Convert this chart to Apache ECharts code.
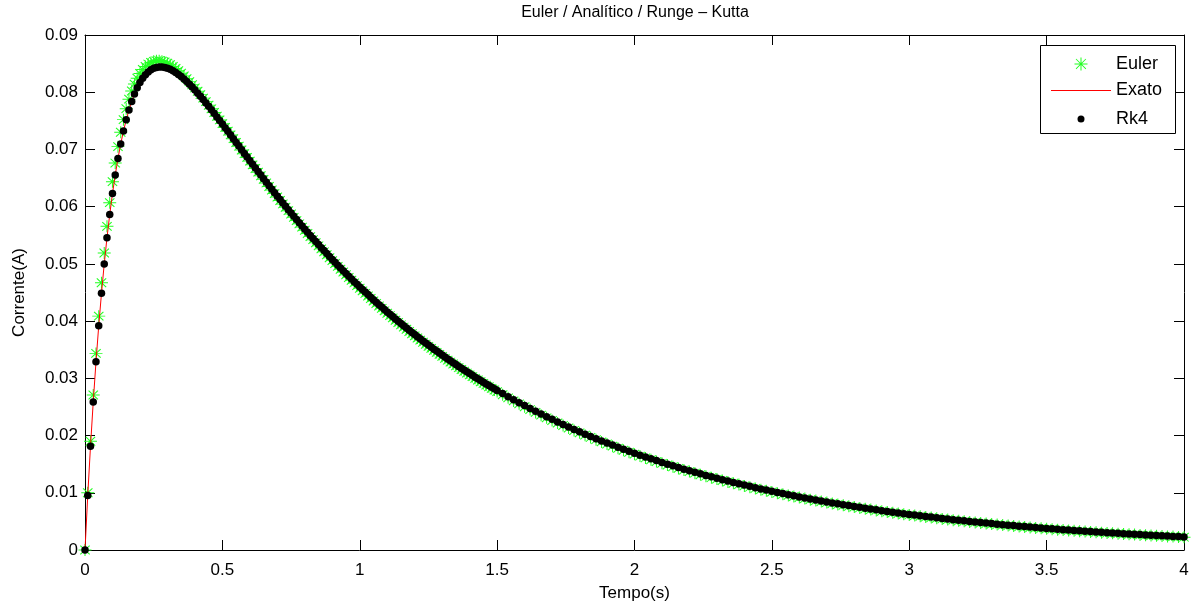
<!DOCTYPE html>
<html>
<head>
<meta charset="utf-8">
<title>Euler / Analítico / Runge – Kutta</title>
<script src="https://cdn.jsdelivr.net/npm/echarts@6/dist/echarts.min.js"></script>
<style>
  html, body { margin: 0; padding: 0; background: #fff; }
  #main { width: 1194px; height: 604px; }
</style>
</head>
<body>
<div id="main"></div>
<script>
// tempo (s): passo 0.01 ate 1.5, depois 0.02
var tempo = [
  0, 0.01, 0.02, 0.03, 0.04, 0.05, 0.06, 0.07, 0.08, 0.09,
  0.10, 0.11, 0.12, 0.13, 0.14, 0.15, 0.16, 0.17, 0.18, 0.19,
  0.20, 0.21, 0.22, 0.23, 0.24, 0.25, 0.26, 0.27, 0.28, 0.29,
  0.30, 0.31, 0.32, 0.33, 0.34, 0.35, 0.36, 0.37, 0.38, 0.39,
  0.40, 0.41, 0.42, 0.43, 0.44, 0.45, 0.46, 0.47, 0.48, 0.49,
  0.50, 0.51, 0.52, 0.53, 0.54, 0.55, 0.56, 0.57, 0.58, 0.59,
  0.60, 0.61, 0.62, 0.63, 0.64, 0.65, 0.66, 0.67, 0.68, 0.69,
  0.70, 0.71, 0.72, 0.73, 0.74, 0.75, 0.76, 0.77, 0.78, 0.79,
  0.80, 0.81, 0.82, 0.83, 0.84, 0.85, 0.86, 0.87, 0.88, 0.89,
  0.90, 0.91, 0.92, 0.93, 0.94, 0.95, 0.96, 0.97, 0.98, 0.99,
  1.00, 1.01, 1.02, 1.03, 1.04, 1.05, 1.06, 1.07, 1.08, 1.09,
  1.10, 1.11, 1.12, 1.13, 1.14, 1.15, 1.16, 1.17, 1.18, 1.19,
  1.20, 1.21, 1.22, 1.23, 1.24, 1.25, 1.26, 1.27, 1.28, 1.29,
  1.30, 1.31, 1.32, 1.33, 1.34, 1.35, 1.36, 1.37, 1.38, 1.39,
  1.40, 1.41, 1.42, 1.43, 1.44, 1.45, 1.46, 1.47, 1.48, 1.49,
  1.50,
  1.52, 1.54, 1.56, 1.58, 1.60,
  1.62, 1.64, 1.66, 1.68, 1.70, 1.72, 1.74, 1.76, 1.78, 1.80,
  1.82, 1.84, 1.86, 1.88, 1.90, 1.92, 1.94, 1.96, 1.98, 2.00,
  2.02, 2.04, 2.06, 2.08, 2.10, 2.12, 2.14, 2.16, 2.18, 2.20,
  2.22, 2.24, 2.26, 2.28, 2.30, 2.32, 2.34, 2.36, 2.38, 2.40,
  2.42, 2.44, 2.46, 2.48, 2.50, 2.52, 2.54, 2.56, 2.58, 2.60,
  2.62, 2.64, 2.66, 2.68, 2.70, 2.72, 2.74, 2.76, 2.78, 2.80,
  2.82, 2.84, 2.86, 2.88, 2.90, 2.92, 2.94, 2.96, 2.98, 3.00,
  3.02, 3.04, 3.06, 3.08, 3.10, 3.12, 3.14, 3.16, 3.18, 3.20,
  3.22, 3.24, 3.26, 3.28, 3.30, 3.32, 3.34, 3.36, 3.38, 3.40,
  3.42, 3.44, 3.46, 3.48, 3.50, 3.52, 3.54, 3.56, 3.58, 3.60,
  3.62, 3.64, 3.66, 3.68, 3.70, 3.72, 3.74, 3.76, 3.78, 3.80,
  3.82, 3.84, 3.86, 3.88, 3.90, 3.92, 3.94, 3.96, 3.98, 4.00
];

// corrente (A) - metodo de Euler
var euler = [
  0, 0.01000, 0.01900, 0.02709, 0.03436, 0.04087, 0.04670, 0.05191, 0.05656, 0.06070,
  0.06437, 0.06762, 0.07049, 0.07301, 0.07521, 0.07713, 0.07879, 0.08021, 0.08142, 0.08244,
  0.08328, 0.08397, 0.08451, 0.08492, 0.08521, 0.08540, 0.08549, 0.08550, 0.08543, 0.08529,
  0.08508, 0.08482, 0.08451, 0.08415, 0.08376, 0.08333, 0.08286, 0.08237, 0.08185, 0.08131,
  0.08075, 0.08017, 0.07958, 0.07897, 0.07836, 0.07773, 0.07710, 0.07646, 0.07581, 0.07516,
  0.07451, 0.07385, 0.07319, 0.07254, 0.07188, 0.07122, 0.07057, 0.06991, 0.06926, 0.06861,
  0.06796, 0.06731, 0.06667, 0.06603, 0.06540, 0.06477, 0.06415, 0.06352, 0.06291, 0.06229,
  0.06169, 0.06108, 0.06048, 0.05989, 0.05930, 0.05872, 0.05814, 0.05757, 0.05700, 0.05643,
  0.05587, 0.05532, 0.05477, 0.05423, 0.05369, 0.05316, 0.05263, 0.05211, 0.05159, 0.05107,
  0.05057, 0.05006, 0.04956, 0.04907, 0.04858, 0.04810, 0.04762, 0.04714, 0.04667, 0.04621,
  0.04574, 0.04529, 0.04484, 0.04439, 0.04395, 0.04351, 0.04308, 0.04265, 0.04222, 0.04180,
  0.04138, 0.04097, 0.04056, 0.04015, 0.03975, 0.03935, 0.03896, 0.03857, 0.03818, 0.03780,
  0.03742, 0.03705, 0.03668, 0.03631, 0.03595, 0.03559, 0.03523, 0.03488, 0.03453, 0.03419,
  0.03384, 0.03350, 0.03317, 0.03284, 0.03251, 0.03218, 0.03186, 0.03154, 0.03123, 0.03092,
  0.03061, 0.03030, 0.03000, 0.02970, 0.02940, 0.02911, 0.02882, 0.02853, 0.02824, 0.02796,
  0.02768,
  0.02713, 0.02659, 0.02606, 0.02554, 0.02503,
  0.02454, 0.02405, 0.02357, 0.02310, 0.02264, 0.02219, 0.02175, 0.02132, 0.02089, 0.02048,
  0.02007, 0.01967, 0.01928, 0.01889, 0.01852, 0.01815, 0.01779, 0.01743, 0.01709, 0.01675,
  0.01641, 0.01609, 0.01577, 0.01545, 0.01515, 0.01485, 0.01455, 0.01426, 0.01398, 0.01370,
  0.01343, 0.01316, 0.01290, 0.01264, 0.01239, 0.01214, 0.01190, 0.01166, 0.01143, 0.01120,
  0.01098, 0.01076, 0.01055, 0.01034, 0.01013, 0.00993, 0.00973, 0.00954, 0.00935, 0.00916,
  0.00898, 0.00880, 0.00863, 0.00846, 0.00829, 0.00812, 0.00796, 0.00780, 0.00765, 0.00750,
  0.00735, 0.00720, 0.00706, 0.00692, 0.00678, 0.00664, 0.00651, 0.00638, 0.00625, 0.00613,
  0.00601, 0.00589, 0.00577, 0.00566, 0.00554, 0.00543, 0.00533, 0.00522, 0.00512, 0.00501,
  0.00491, 0.00482, 0.00472, 0.00463, 0.00453, 0.00444, 0.00436, 0.00427, 0.00418, 0.00410,
  0.00402, 0.00394, 0.00386, 0.00378, 0.00371, 0.00364, 0.00356, 0.00349, 0.00342, 0.00335,
  0.00329, 0.00322, 0.00316, 0.00310, 0.00303, 0.00297, 0.00291, 0.00286, 0.00280, 0.00274,
  0.00269, 0.00264, 0.00258, 0.00253, 0.00248, 0.00243, 0.00238, 0.00234, 0.00229, 0.00224
];

// corrente (A) - Runge-Kutta 4a ordem
var rk4 = [
  0, 0.00952, 0.01812, 0.02588, 0.03289, 0.03920, 0.04488, 0.04998, 0.05455, 0.05863,
  0.06228, 0.06553, 0.06842, 0.07097, 0.07321, 0.07518, 0.07690, 0.07839, 0.07967, 0.08076,
  0.08168, 0.08244, 0.08306, 0.08354, 0.08391, 0.08418, 0.08434, 0.08442, 0.08442, 0.08434,
  0.08420, 0.08400, 0.08375, 0.08345, 0.08311, 0.08273, 0.08231, 0.08187, 0.08139, 0.08090,
  0.08038, 0.07984, 0.07928, 0.07871, 0.07812, 0.07753, 0.07692, 0.07631, 0.07569, 0.07506,
  0.07443, 0.07379, 0.07316, 0.07252, 0.07188, 0.07123, 0.07059, 0.06995, 0.06931, 0.06867,
  0.06804, 0.06740, 0.06677, 0.06614, 0.06552, 0.06490, 0.06428, 0.06366, 0.06305, 0.06245,
  0.06184, 0.06125, 0.06065, 0.06006, 0.05948, 0.05890, 0.05833, 0.05775, 0.05719, 0.05663,
  0.05607, 0.05552, 0.05498, 0.05443, 0.05390, 0.05337, 0.05284, 0.05232, 0.05180, 0.05129,
  0.05078, 0.05028, 0.04978, 0.04929, 0.04880, 0.04832, 0.04784, 0.04737, 0.04690, 0.04643,
  0.04597, 0.04553, 0.04507, 0.04463, 0.04418, 0.04374, 0.04331, 0.04288, 0.04245, 0.04203,
  0.04161, 0.04119, 0.04079, 0.04038, 0.03998, 0.03958, 0.03919, 0.03880, 0.03841, 0.03803,
  0.03765, 0.03727, 0.03690, 0.03654, 0.03617, 0.03581, 0.03546, 0.03510, 0.03476, 0.03441,
  0.03407, 0.03373, 0.03339, 0.03306, 0.03273, 0.03241, 0.03208, 0.03176, 0.03145, 0.03113,
  0.03083, 0.03052, 0.03021, 0.02991, 0.02962, 0.02932, 0.02903, 0.02874, 0.02846, 0.02817,
  0.02789,
  0.02734, 0.02680, 0.02627, 0.02575, 0.02524,
  0.02474, 0.02425, 0.02377, 0.02330, 0.02284, 0.02238, 0.02194, 0.02151, 0.02108, 0.02066,
  0.02025, 0.01985, 0.01946, 0.01907, 0.01870, 0.01833, 0.01796, 0.01761, 0.01726, 0.01692,
  0.01658, 0.01625, 0.01593, 0.01562, 0.01531, 0.01500, 0.01471, 0.01442, 0.01413, 0.01385,
  0.01358, 0.01331, 0.01304, 0.01279, 0.01253, 0.01228, 0.01204, 0.01180, 0.01157, 0.01134,
  0.01112, 0.01090, 0.01068, 0.01047, 0.01026, 0.01006, 0.00986, 0.00966, 0.00947, 0.00928,
  0.00910, 0.00892, 0.00874, 0.00857, 0.00840, 0.00823, 0.00807, 0.00791, 0.00776, 0.00760,
  0.00745, 0.00730, 0.00716, 0.00702, 0.00688, 0.00674, 0.00661, 0.00648, 0.00635, 0.00622,
  0.00610, 0.00598, 0.00586, 0.00575, 0.00563, 0.00552, 0.00541, 0.00530, 0.00520, 0.00510,
  0.00499, 0.00490, 0.00480, 0.00470, 0.00461, 0.00452, 0.00443, 0.00434, 0.00426, 0.00417,
  0.00409, 0.00401, 0.00393, 0.00385, 0.00377, 0.00370, 0.00363, 0.00356, 0.00348, 0.00342,
  0.00335, 0.00328, 0.00322, 0.00315, 0.00309, 0.00303, 0.00297, 0.00291, 0.00285, 0.00280,
  0.00274, 0.00269, 0.00263, 0.00258, 0.00253, 0.00248, 0.00243, 0.00238, 0.00234, 0.00229
];

// solucao analitica: coincide com o Rk4 nesta escala
var exato = rk4.slice();

var nomes = ['Euler', 'Exato', 'Rk4'];

var FONT = '"Liberation Sans", Arial, sans-serif';
var VERDE = '#22ff22';

// asterisco do matlab (+ e x juntos)
var asterisco = 'path://M0,46 L100,46 L100,54 L0,54 Z M46,0 L54,0 L54,100 L46,100 Z ' +
  'M17,11 L89,83 L83,89 L11,17 Z M83,11 L89,17 L17,89 L11,83 Z';

// icones da legenda numa caixa de 60 px, com o simbolo no meio
var iconeEuler = 'path://M0,6.5 L0,6.5 M60,6.5 L60,6.5 ' +
  'M23.5,6 L36.5,6 L36.5,7 L23.5,7 Z M29.5,0 L30.5,0 L30.5,13 L29.5,13 Z ' +
  'M25.3,1.2 L35.2,11.1 L34.6,11.7 L24.7,1.8 Z M34.6,1.2 L35.2,1.8 L25.3,11.7 L24.7,11.1 Z';
var iconeRk4 = 'path://M0,3.5 L0,3.5 M60,3.5 L60,3.5 ' +
  'M33.5,3.5 A3.5,3.5 0 1,1 26.5,3.5 A3.5,3.5 0 1,1 33.5,3.5 Z';

function pares(ys) {
  return tempo.map(function (t, i) { return [t, ys[i]]; });
}

var chart = echarts.init(document.getElementById('main'));

var eixoX = {
  type: 'value', min: 0, max: 4, interval: 0.5,
  axisLine: { onZero: false, lineStyle: { color: '#000', width: 1 } },
  axisTick: { inside: true, length: 10, lineStyle: { color: '#000' } },
  splitLine: { show: false }
};
var eixoY = {
  type: 'value', min: 0, max: 0.09, interval: 0.01,
  axisLine: { onZero: false, lineStyle: { color: '#000', width: 1 } },
  axisTick: { inside: true, length: 10, lineStyle: { color: '#000' } },
  splitLine: { show: false }
};

var textoLegenda = { fontFamily: FONT, fontSize: 18, color: '#000', lineHeight: 20 };

var option = {
  animation: false,
  backgroundColor: '#fff',
  textStyle: { fontFamily: FONT },
  title: {
    text: 'Euler / Analítico / Runge – Kutta',
    left: 630, top: 0, textAlign: 'center',
    textStyle: { fontFamily: FONT, fontSize: 16, fontWeight: 'normal', color: '#000' }
  },
  grid: { left: 85, right: 10, top: 35, bottom: 54, containLabel: false, outerBoundsMode: 'none' },
  xAxis: [
    echarts.util.merge({
      position: 'bottom',
      name: 'Tempo(s)', nameLocation: 'middle', nameGap: 35,
      nameTextStyle: { fontFamily: FONT, fontSize: 17, color: '#000' },
      axisLabel: { fontFamily: FONT, fontSize: 17, color: '#000', margin: 12 }
    }, eixoX, true),
    echarts.util.merge({ position: 'top', axisLabel: { show: false } }, eixoX, true)
  ],
  yAxis: [
    echarts.util.merge({
      position: 'left',
      name: 'Corrente(A)', nameLocation: 'middle', nameGap: 57,
      nameTextStyle: { fontFamily: FONT, fontSize: 17, color: '#000' },
      axisLabel: { fontFamily: FONT, fontSize: 17, color: '#000', margin: 7 }
    }, eixoY, true),
    echarts.util.merge({ position: 'right', axisLabel: { show: false } }, eixoY, true)
  ],
  legend: [
    { data: [{ name: nomes[0], icon: iconeEuler }], left: 1046, top: 49,
      itemWidth: 60, itemHeight: 13, textStyle: textoLegenda },
    { data: [{ name: nomes[1], icon: 'rect' }], left: 1046, top: 75.5,
      itemWidth: 60, itemHeight: 1, textStyle: textoLegenda },
    { data: [{ name: nomes[2], icon: iconeRk4 }], left: 1046, top: 104,
      itemWidth: 60, itemHeight: 7, textStyle: textoLegenda }
  ],
  graphic: [{
    type: 'rect', z: 3,
    shape: { x: 1040.5, y: 45.5, width: 135, height: 88 },
    style: { fill: '#fff', stroke: '#000', lineWidth: 1 }
  }],
  series: [
    {
      name: nomes[0], type: 'scatter', data: pares(euler),
      symbol: asterisco, symbolSize: [13, 12],
      itemStyle: { color: VERDE, opacity: 1 }, z: 2
    },
    {
      name: nomes[1], type: 'line', data: pares(exato),
      symbol: 'none', lineStyle: { color: '#ff0000', width: 1 },
      itemStyle: { color: '#ff0000' }, z: 3
    },
    {
      name: nomes[2], type: 'scatter', data: pares(rk4),
      symbol: 'circle', symbolSize: 7.5,
      itemStyle: { color: '#000', opacity: 1 }, z: 4
    }
  ]
};

chart.setOption(option);
</script>
</body>
</html>
